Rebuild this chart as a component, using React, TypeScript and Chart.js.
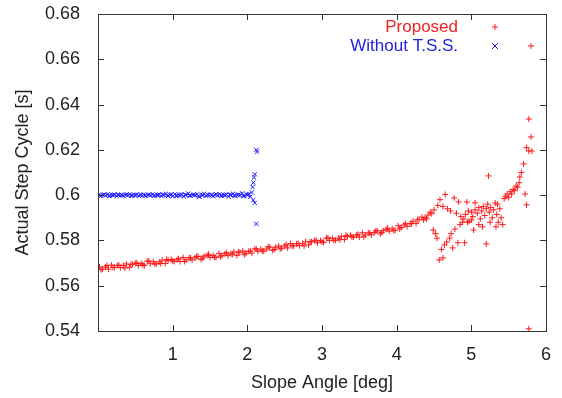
import React, { useEffect, useRef } from "react";
import { Chart, registerables } from "chart.js";

Chart.register(...registerables);

// ---- Data ----
const xTicks = [0, 1, 2, 3, 4, 5, 6];
const yTicks = [0.54, 0.56, 0.58, 0.6, 0.62, 0.64, 0.66, 0.68];

const proposedBandX = [
  0.02, 0.06, 0.10, 0.14, 0.18, 0.22, 0.26, 0.30, 0.34, 0.38, 0.42, 0.46, 0.50, 0.54, 0.58, 0.62, 0.66, 0.70, 0.74, 0.78,
  0.82, 0.86, 0.90, 0.94, 0.98, 1.02, 1.06, 1.10, 1.14, 1.18, 1.22, 1.26, 1.30, 1.34, 1.38, 1.42, 1.46, 1.50, 1.54, 1.58,
  1.62, 1.66, 1.70, 1.74, 1.78, 1.82, 1.86, 1.90, 1.94, 1.98, 2.02, 2.06, 2.10, 2.14, 2.18, 2.22, 2.26, 2.30, 2.34, 2.38,
  2.42, 2.46, 2.50, 2.54, 2.58, 2.62, 2.66, 2.70, 2.74, 2.78, 2.82, 2.86, 2.90, 2.94, 2.98, 3.02, 3.06, 3.10, 3.14, 3.18,
  3.22, 3.26, 3.30, 3.34, 3.38, 3.42, 3.46, 3.50, 3.54, 3.58, 3.62, 3.66, 3.70, 3.74, 3.78, 3.82, 3.86, 3.90, 3.94, 3.98,
  4.02, 4.06, 4.10, 4.14, 4.18, 4.22, 4.26, 4.30, 4.34, 4.38,
];
const proposedBandY = [
  0.5683, 0.5673, 0.5682, 0.5673, 0.5691, 0.5681, 0.5689, 0.5680, 0.5689, 0.5696, 0.5681, 0.5695, 0.5699, 0.5689, 0.5698, 0.5689, 0.5708, 0.5697, 0.5706, 0.5697,
  0.5705, 0.5713, 0.5698, 0.5712, 0.5716, 0.5707, 0.5715, 0.5707, 0.5725, 0.5714, 0.5723, 0.5714, 0.5723, 0.5730, 0.5716, 0.5730, 0.5734, 0.5725, 0.5733, 0.5725,
  0.5743, 0.5733, 0.5741, 0.5733, 0.5741, 0.5749, 0.5734, 0.5748, 0.5753, 0.5743, 0.5752, 0.5744, 0.5763, 0.5752, 0.5761, 0.5753, 0.5762, 0.5770, 0.5756, 0.5770,
  0.5775, 0.5766, 0.5775, 0.5767, 0.5786, 0.5776, 0.5785, 0.5777, 0.5786, 0.5794, 0.5780, 0.5794, 0.5799, 0.5790, 0.5799, 0.5791, 0.5810, 0.5800, 0.5809, 0.5801,
  0.5810, 0.5818, 0.5804, 0.5818, 0.5823, 0.5814, 0.5823, 0.5815, 0.5834, 0.5824, 0.5833, 0.5825, 0.5835, 0.5843, 0.5829, 0.5843, 0.5849, 0.5841, 0.5851, 0.5844,
  0.5865, 0.5857, 0.5868, 0.5862, 0.5874, 0.5885, 0.5875, 0.5893, 0.5903, 0.5900,
];

const proposedBand2X = [
  0.04, 0.12, 0.20, 0.28, 0.36, 0.44, 0.52, 0.60, 0.68, 0.76, 0.84, 0.92, 1.00, 1.08, 1.16, 1.24, 1.32, 1.40, 1.48, 1.56,
  1.64, 1.72, 1.80, 1.88, 1.96, 2.04, 2.12, 2.20, 2.28, 2.36, 2.44, 2.52, 2.60, 2.68, 2.76, 2.84, 2.92, 3.00, 3.08, 3.16,
  3.24, 3.32, 3.40, 3.48, 3.56, 3.64, 3.72, 3.80, 3.88, 3.96, 4.04, 4.12, 4.20, 4.28, 4.36,
];
const proposedBand2Y = [
  0.5671, 0.5689, 0.5681, 0.5691, 0.5678, 0.5694, 0.5701, 0.5693, 0.5709, 0.5696, 0.5698, 0.5716, 0.5709, 0.5719, 0.5707, 0.5723, 0.5729, 0.5722, 0.5739, 0.5726,
  0.5728, 0.5746, 0.5739, 0.5749, 0.5737, 0.5754, 0.5762, 0.5754, 0.5772, 0.5760, 0.5763, 0.5782, 0.5776, 0.5787, 0.5776, 0.5793, 0.5801, 0.5794, 0.5812, 0.5800,
  0.5803, 0.5822, 0.5816, 0.5827, 0.5816, 0.5833, 0.5842, 0.5835, 0.5854, 0.5844, 0.5851, 0.5874, 0.5874, 0.5892, 0.5891,
];

const proposedScatterX = [
  4.40, 4.42, 4.45, 4.47,
  4.50, 4.55, 4.58, 4.62, 4.65, 4.68, 4.72, 4.77, 4.80, 4.83, 4.86, 4.90, 4.94, 4.97, 5.00, 5.05,
  4.49, 4.52, 4.54, 4.57, 4.62, 4.60, 4.64, 4.67, 4.71, 4.75, 4.73, 4.78, 4.82, 4.91, 4.85, 4.88, 4.95, 5.03, 5.20,
  4.92, 4.96, 5.00, 5.02, 5.05, 5.08, 5.10, 5.12, 5.14, 5.16, 5.18, 5.20, 5.22, 5.24, 5.26, 5.28, 5.30, 5.32, 5.34, 5.36,
  5.38, 5.40, 5.42, 5.10, 5.15, 5.25, 5.33, 5.35,
  5.44, 5.46, 5.48, 5.50, 5.52, 5.54, 5.56, 5.58, 5.60, 5.62, 5.64, 5.65, 5.67, 5.70, 5.23,
  5.72, 5.74, 5.74, 5.77, 5.81, 5.80, 5.77, 5.80, 5.77,
];
const proposedScatterY = [
  0.5895, 0.5912, 0.5925, 0.5918,
  0.5935, 0.5955, 0.5980, 0.5950, 0.6003, 0.5940, 0.5930, 0.5988, 0.5920, 0.5970, 0.5905, 0.5895, 0.5970, 0.5885, 0.5890, 0.5966,
  0.5846, 0.5830, 0.5810, 0.5714, 0.5723, 0.5760, 0.5780, 0.5793, 0.5810, 0.5767, 0.5830, 0.5850, 0.5790, 0.5790, 0.5870, 0.5880, 0.5880, 0.5846, 0.5785,
  0.5915, 0.5930, 0.5925, 0.5905, 0.5935, 0.5920, 0.5945, 0.5895, 0.5930, 0.5950, 0.5910, 0.5940, 0.5960, 0.5925, 0.5945, 0.5900, 0.5935, 0.5965, 0.5915, 0.5880,
  0.5940, 0.5900, 0.5870, 0.5870, 0.5860, 0.5880, 0.5860, 0.5960,
  0.5985, 0.5995, 0.6005, 0.5990, 0.6015, 0.6005, 0.6025, 0.6020, 0.6040, 0.6035, 0.6055, 0.6080, 0.6100, 0.6138, 0.6085,
  0.6005, 0.5957, 0.6210, 0.6195, 0.6195, 0.6257, 0.6336, 0.6659, 0.5410,
];

const withoutX = [
  0.01, 0.04, 0.07, 0.10, 0.13, 0.16, 0.19, 0.22, 0.25, 0.28, 0.31, 0.34, 0.37, 0.40, 0.43, 0.46, 0.49, 0.52, 0.55, 0.58,
  0.61, 0.64, 0.67, 0.70, 0.73, 0.76, 0.79, 0.82, 0.85, 0.88, 0.91, 0.94, 0.97, 1.00, 1.03, 1.06, 1.09, 1.12, 1.15, 1.18,
  1.21, 1.24, 1.27, 1.30, 1.33, 1.36, 1.39, 1.42, 1.45, 1.48, 1.51, 1.54, 1.57, 1.60, 1.63, 1.66, 1.69, 1.72, 1.75, 1.78,
  1.81, 1.84, 1.87, 1.90, 1.93, 1.96, 1.99, 2.02, 2.04,
  2.06, 2.07, 2.08, 2.09, 2.10, 2.08, 2.10, 2.12, 2.12, 2.13,
];
const withoutY = [
  0.6002, 0.5997, 0.6001, 0.5999, 0.6004, 0.5998, 0.6000, 0.6003, 0.5996, 0.6001, 0.6002, 0.5997, 0.6001, 0.5999, 0.6004, 0.5998, 0.6000, 0.6003, 0.5996, 0.6001,
  0.6002, 0.5997, 0.6001, 0.5999, 0.6004, 0.5998, 0.6000, 0.6003, 0.5996, 0.6001, 0.6006, 0.5997, 0.6001, 0.5995, 0.6004, 0.5998, 0.6000, 0.6003, 0.5994, 0.6001,
  0.6007, 0.5997, 0.6001, 0.5999, 0.6004, 0.5993, 0.6000, 0.6006, 0.5996, 0.6001, 0.6002, 0.5995, 0.6001, 0.5999, 0.6004, 0.5998, 0.6000, 0.6003, 0.5994, 0.6001,
  0.6006, 0.5997, 0.6001, 0.5999, 0.6008, 0.5996, 0.6002, 0.6005, 0.5993,
  0.6012, 0.6036, 0.6055, 0.6078, 0.6092, 0.5978, 0.5966, 0.5873, 0.6200, 0.6192,
];
const without2X = [
  0.025, 0.085, 0.145, 0.205, 0.265, 0.325, 0.385, 0.445, 0.505, 0.565, 0.625, 0.685, 0.745, 0.805, 0.865, 0.925, 0.985,
  1.045, 1.105, 1.165, 1.225, 1.285, 1.345, 1.405, 1.465, 1.525, 1.585, 1.645, 1.705, 1.765, 1.825, 1.885, 1.945, 2.005,
];
const without2Y = [
  0.5998, 0.6003, 0.5996, 0.6001, 0.6002, 0.5999, 0.6004, 0.5997, 0.6000, 0.6002, 0.5998, 0.6003, 0.5996, 0.6001, 0.6002, 0.5999, 0.6004,
  0.5997, 0.6000, 0.6002, 0.5998, 0.6003, 0.5996, 0.6001, 0.6002, 0.5999, 0.6004, 0.5997, 0.6000, 0.6002, 0.5998, 0.6003, 0.5996, 0.6001,
];

const seriesNames = ["Proposed", "Without T.S.S."];
const axisTitles = { x: "Slope Angle [deg]", y: "Actual Step Cycle [s]" };

const RED = "#ff1a1a";
const BLUE = "#1a1aff";
const RED_TEXT = "#ee2222";
const BLUE_TEXT = "#2222dd";
const FONT = "'Liberation Sans', Arial, sans-serif";

const zip = (xs: number[], ys: number[]) => xs.map((x, i) => ({ x, y: ys[i] }));

const frameTicksPlugin = {
  id: "frameTicks",
  afterDatasetsDraw(chart: any) {
    const { ctx, chartArea: a, scales } = chart;
    ctx.save();
    ctx.strokeStyle = "#333";
    ctx.lineWidth = 1;
    const L = 6;
    ctx.beginPath();
    for (const v of xTicks) {
      const px = Math.round(scales.x.getPixelForValue(v)) + 0.5;
      ctx.moveTo(px, a.bottom);
      ctx.lineTo(px, a.bottom - L);
      ctx.moveTo(px, a.top);
      ctx.lineTo(px, a.top + L);
    }
    for (const v of yTicks) {
      const py = Math.round(scales.y.getPixelForValue(v)) + 0.5;
      ctx.moveTo(a.left, py);
      ctx.lineTo(a.left + L, py);
      ctx.moveTo(a.right, py);
      ctx.lineTo(a.right - L, py);
    }
    ctx.stroke();
    ctx.strokeRect(Math.round(a.left) + 0.5, Math.round(a.top) + 0.5, Math.round(a.right - a.left), Math.round(a.bottom - a.top));
    ctx.restore();
  },
  afterDraw(chart: any) {
    const { ctx } = chart;
    ctx.save();
    ctx.font = `17px ${FONT}`;
    ctx.textAlign = "right";
    ctx.textBaseline = "middle";
    const textRight = 458;
    const sampleX = 495;
    const rows = [
      { label: seriesNames[0], y: 27, color: RED_TEXT, mark: RED, style: "plus" },
      { label: seriesNames[1], y: 46, color: BLUE_TEXT, mark: BLUE, style: "x" },
    ];
    for (const r of rows) {
      ctx.fillStyle = r.color;
      ctx.fillText(r.label, textRight, r.y);
      ctx.strokeStyle = r.mark;
      ctx.lineWidth = 1;
      ctx.beginPath();
      const s = 3;
      if (r.style === "plus") {
        ctx.moveTo(sampleX - s, r.y);
        ctx.lineTo(sampleX + s, r.y);
        ctx.moveTo(sampleX, r.y - s);
        ctx.lineTo(sampleX, r.y + s);
      } else {
        ctx.moveTo(sampleX - s, r.y - s);
        ctx.lineTo(sampleX + s, r.y + s);
        ctx.moveTo(sampleX - s, r.y + s);
        ctx.lineTo(sampleX + s, r.y - s);
      }
      ctx.stroke();
    }
    ctx.restore();
  },
};

export default function App() {
  const ref = useRef<HTMLCanvasElement | null>(null);
  useEffect(() => {
    if (!ref.current) return;
    const chart = new Chart(ref.current, {
      type: "scatter",
      data: {
        datasets: [
          {
            label: seriesNames[0],
            data: [
              ...zip(proposedBandX, proposedBandY),
              ...zip(proposedBand2X, proposedBand2Y),
              ...zip(proposedScatterX, proposedScatterY),
            ],
            pointStyle: "cross",
            pointRadius: 3,
            pointBorderWidth: 1,
            borderColor: RED,
            backgroundColor: RED,
          },
          {
            label: seriesNames[1],
            data: [...zip(withoutX, withoutY), ...zip(without2X, without2Y)],
            pointStyle: "crossRot",
            pointRadius: 3,
            pointBorderWidth: 1,
            borderColor: BLUE,
            backgroundColor: BLUE,
          },
        ],
      },
      options: {
        animation: false,
        responsive: false,
        layout: { padding: { top: 14, right: 16, left: 8, bottom: 0 } },
        plugins: { legend: { display: false }, tooltip: { enabled: false } },
        scales: {
          x: {
            type: "linear",
            min: 0,
            max: 6,
            afterBuildTicks: (s: any) => {
              s.ticks = xTicks.map((v) => ({ value: v }));
            },
            afterFit: (s: any) => {
              s.height = 67;
            },
            ticks: {
              padding: 5,
              color: "#222",
              font: { family: FONT, size: 18 },
              maxRotation: 0,
              callback: (v: any) => (v === 0 ? "" : String(v)),
            },
            grid: { display: false },
            border: { display: false },
            title: { display: true, text: axisTitles.x, color: "#222", font: { family: FONT, size: 18 }, padding: { top: 2 } },
          },
          y: {
            type: "linear",
            min: 0.54,
            max: 0.68,
            afterBuildTicks: (s: any) => {
              s.ticks = yTicks.map((v) => ({ value: v }));
            },
            afterFit: (s: any) => {
              s.width = 90;
              s.paddingTop = 0;
              s.paddingBottom = 0;
            },
            ticks: {
              padding: 10,
              color: "#222",
              font: { family: FONT, size: 18 },
              callback: (v: any) => String(Number(Number(v).toFixed(2))),
            },
            grid: { display: false },
            border: { display: false },
            title: { display: true, text: axisTitles.y, color: "#222", font: { family: FONT, size: 18 }, padding: { bottom: 4 } },
          },
        },
      },
      plugins: [frameTicksPlugin],
    });
    return () => chart.destroy();
  }, []);
  return (
    <div style={{ position: "absolute", left: 0, top: 0, width: 562, height: 398, background: "#fff" }}>
      <canvas ref={ref} width={562} height={398} style={{ width: 562, height: 398 }} />
    </div>
  );
}
